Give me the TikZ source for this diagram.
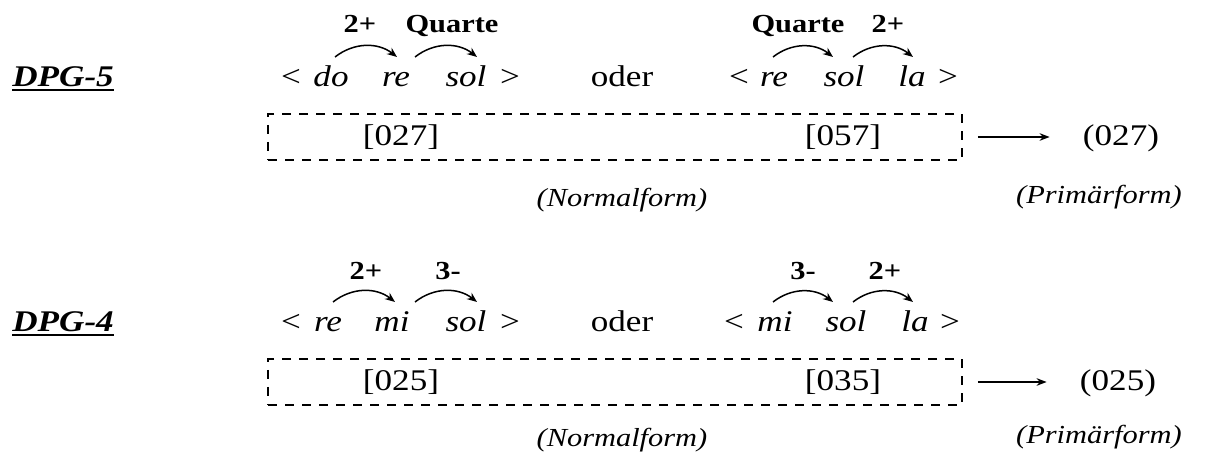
\documentclass[tikz,border=0pt]{standalone}
\usepackage{fontspec}
\setmainfont{Liberation Serif}[FakeStretch=1.17]
\usetikzlibrary{arrows.meta,calc}

\begin{document}
\begin{tikzpicture}[x=0.5pt,y=-0.5pt,
  syl/.style={anchor=base,inner sep=0pt,font=\fontsize{15}{18}\selectfont\itshape},
  sym/.style={anchor=base,inner sep=0pt,font=\fontsize{15}{18}\selectfont},
  ivl/.style={anchor=base,inner sep=0pt,font=\fontsize{13}{15}\selectfont\bfseries},
  form/.style={inner sep=0pt,font=\fontsize{13}{15}\selectfont\itshape},
  dpg/.style={anchor=base west,inner sep=0pt,font=\fontsize{15}{18}\selectfont\bfseries\itshape},
  nfbox/.style={draw,line width=0.9pt,dash pattern=on 4.5pt off 4pt,minimum width=347pt,minimum height=23pt,inner sep=0pt},
  hop/.style={line width=0.75pt,-{Stealth[length=5pt,width=4pt]}},
  toprim/.style={line width=0.75pt,-{Stealth[length=5pt,width=3.8pt]}}]

\useasboundingbox (0,0) rectangle (1228,454);

% DPG-5: < do re sol > oder < re sol la >
\node[dpg] (dpg5) at (12,87) {DPG-5};
\draw[line width=1pt] ($(dpg5.base west)+(0,3)$) -- ($(dpg5.base east)+(0,3)$);

\node[sym] (lt1) at (291,87) {<};
\node[syl] (do1) at (331,87) {do};
\node[syl] (re1) at (396,87) {re};
\node[syl] (sol1) at (466,87) {sol};
\node[sym] (gt1) at (510,87) {>};
\node[sym] (oder5) at (622,87) {oder};
\node[sym] (lt2) at (739,87) {<};
\node[syl] (re2) at (774,87) {re};
\node[syl] (sol2) at (844,87) {sol};
\node[syl] (la2) at (912,87) {la};
\node[sym] (gt2) at (948,87) {>};

\draw[hop] ($(do1.base)+(4,-30)$) to[bend left=38] ($(re1.base)+(1,-30)$);
\draw[hop] ($(re1.base)+(19,-30)$) to[bend left=38] ($(sol1.base)+(11,-30)$);
\draw[hop] ($(re2.base)+(-1,-30)$) to[bend left=38] ($(sol2.base)+(-11,-30)$);
\draw[hop] ($(sol2.base)+(9,-30)$) to[bend left=38] ($(la2.base)+(1,-30)$);

\node[ivl] (i1) at (360,33) {2+};
\node[ivl] (i2) at (452,33) {Quarte};
\node[ivl] (i3) at (798,33) {Quarte};
\node[ivl] (i4) at (888,33) {2+};

\node[nfbox] (nf5) at (615,137) {};
\node[sym] (n027) at (401,146) {[027]};
\node[sym] (n057) at (843,146) {[057]};
\node[sym] (prim5) at (1121,146) {(027)};
\draw[toprim, shorten <=7.5pt, shorten >=16.5pt] (nf5.east) -- (nf5.east -| prim5.west);

\node[form] (nform5) at (622,200) {(Normalform)};
\node[form] (pform5) at (1099,197) {(Primärform)};


% DPG-4: < re mi sol > oder < mi sol la >
\node[dpg] (dpg4) at (12,332) {DPG-4};
\draw[line width=1pt] ($(dpg4.base west)+(0,3)$) -- ($(dpg4.base east)+(0,3)$);

\node[sym] (lt3) at (291,332) {<};
\node[syl] (re3) at (328,332) {re};
\node[syl] (mi3) at (392,332) {mi};
\node[syl] (sol3) at (466,332) {sol};
\node[sym] (gt3) at (510,332) {>};
\node[sym] (oder4) at (622,332) {oder};
\node[sym] (lt4) at (734,332) {<};
\node[syl] (mi4) at (775,332) {mi};
\node[syl] (sol4) at (846,332) {sol};
\node[syl] (la4) at (915,332) {la};
\node[sym] (gt4) at (950,332) {>};

\draw[hop] ($(re3.base)+(5,-30)$) to[bend left=38] ($(mi3.base)+(3,-30)$);
\draw[hop] ($(mi3.base)+(23,-30)$) to[bend left=38] ($(sol3.base)+(11,-30)$);
\draw[hop] ($(mi4.base)+(-2,-30)$) to[bend left=38] ($(sol4.base)+(-13,-30)$);
\draw[hop] ($(sol4.base)+(7,-30)$) to[bend left=38] ($(la4.base)+(-2,-30)$);

\node[ivl] (i5) at (366,280) {2+};
\node[ivl] (i6) at (448,280) {3-};
\node[ivl] (i7) at (803,280) {3-};
\node[ivl] (i8) at (885,280) {2+};

\node[nfbox] (nf4) at (615,382) {};
\node[sym] (n025) at (401,391) {[025]};
\node[sym] (n035) at (843,391) {[035]};
\node[sym] (prim4) at (1118,391) {(025)};
\draw[toprim, shorten <=7.5pt, shorten >=16.5pt] (nf4.east) -- (nf4.east -| prim4.west);

\node[form] (nform4) at (622,440) {(Normalform)};
\node[form] (pform4) at (1099,437) {(Primärform)};

\end{tikzpicture}
\end{document}
